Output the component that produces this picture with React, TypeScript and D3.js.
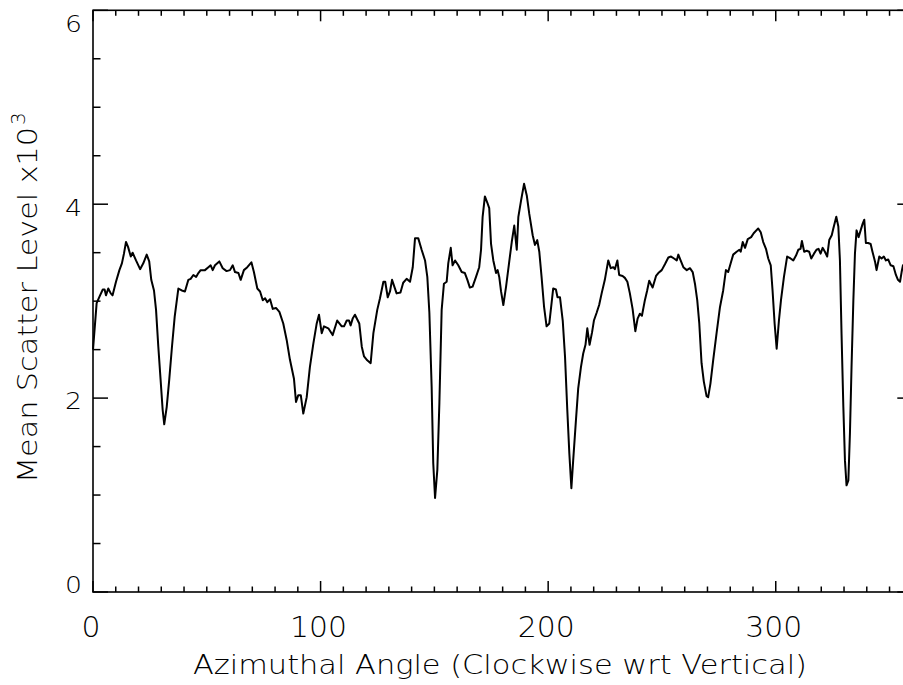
import React from "react";
import * as d3 from "d3";

const angles: number[] = [
  0.0, 1.6, 3.1, 4.3, 5.1, 5.7, 6.7, 7.8, 8.6, 10.1, 11.6, 12.7, 13.6, 14.5, 15.4, 16.6, 17.4, 18.9, 20.7, 22.1,
  23.6, 24.7, 25.6, 26.8, 27.7, 28.7, 29.7, 30.6, 31.3, 32.4, 33.5, 34.7, 35.9, 37.5, 39.0, 40.4, 41.9, 42.9, 44.1, 45.3,
  46.3, 47.3, 49.2, 50.7, 51.7, 52.6, 53.6, 55.5, 57.0, 58.7, 60.2, 61.4, 62.4, 63.9, 64.9, 66.3, 67.8, 69.6, 70.7, 72.2,
  73.4, 74.6, 75.6, 76.6, 77.8, 79.0, 80.4, 81.9, 83.6, 85.1, 86.5, 88.3, 89.2, 90.2, 91.3, 92.4, 93.9, 95.3, 96.8, 98.3,
  99.3, 100.5, 101.5, 103.4, 105.3, 107.3, 109.3, 110.3, 111.5, 112.5, 113.2, 114.1, 115.1, 117.0, 118.1, 119.1, 120.5, 122.0, 123.2, 124.9,
  126.1, 127.6, 128.4, 129.5, 130.5, 131.4, 133.4, 135.1, 136.3, 137.8, 139.3, 140.5, 141.5, 142.9, 144.4, 145.9, 146.9, 147.8, 148.8, 149.5,
  150.3, 151.3, 152.2, 153.2, 154.2, 155.4, 156.1, 157.2, 158.0, 159.1, 160.5, 162.0, 163.4, 164.5, 165.6, 166.8, 168.3, 169.7, 170.5, 171.2,
  172.2, 173.2, 174.1, 174.9, 175.9, 177.1, 177.8, 178.5, 179.3, 180.3, 181.5, 182.8, 184.0, 185.1, 186.2, 186.9, 188.1, 189.4, 190.6, 191.7,
  193.2, 194.2, 195.2, 196.1, 197.1, 198.2, 199.3, 200.5, 201.5, 202.2, 203.4, 204.1, 205.2, 206.4, 207.4, 208.4, 209.3, 210.2, 211.0, 212.2,
  213.2, 214.4, 215.4, 216.4, 217.2, 218.2, 219.3, 220.1, 221.3, 222.4, 223.5, 224.9, 226.4, 227.5, 228.6, 229.3, 230.4, 231.2, 232.7, 233.7,
  234.8, 235.9, 237.1, 238.3, 239.3, 240.3, 241.2, 242.5, 243.5, 244.4, 245.9, 247.4, 248.4, 249.9, 251.3, 252.8, 254.0, 255.3, 256.5, 257.2,
  258.2, 259.4, 260.9, 262.3, 263.5, 264.5, 265.5, 266.4, 267.4, 268.4, 269.6, 270.3, 271.3, 272.5, 274.0, 275.5, 276.9, 278.1, 279.1, 280.2,
  281.3, 282.8, 284.0, 284.6, 285.5, 286.5, 287.7, 289.2, 290.3, 292.3, 293.4, 294.5, 295.7, 296.7, 297.8, 298.6, 299.5, 300.4, 301.4, 302.3,
  303.6, 305.0, 306.5, 307.7, 308.9, 309.9, 310.9, 311.5, 312.5, 313.6, 314.7, 315.6, 316.8, 317.9, 318.8, 319.7, 320.6, 321.6, 322.6, 323.5,
  324.6, 325.3, 326.6, 327.5, 328.2, 328.9, 329.7, 330.4, 331.1, 331.9, 332.6, 333.3, 334.1, 334.8, 335.5, 336.4, 337.3, 338.2, 338.9, 339.6,
  340.6, 341.7, 342.5, 343.6, 344.3, 345.5, 346.5, 347.5, 348.4, 349.4, 350.5, 351.7, 352.8, 353.7, 354.6, 355.3, 355.9, 357.0, 358.5, 360.0,
];

const scatter: number[] = [
  2.5, 2.98, 3.06, 3.12, 3.12, 3.06, 3.13, 3.08, 3.06, 3.2, 3.32, 3.39, 3.49, 3.61, 3.56, 3.46, 3.5, 3.42, 3.33, 3.39,
  3.48, 3.41, 3.22, 3.11, 2.91, 2.53, 2.19, 1.88, 1.73, 1.91, 2.19, 2.53, 2.84, 3.13, 3.11, 3.1, 3.22, 3.23, 3.27, 3.25,
  3.29, 3.32, 3.32, 3.35, 3.37, 3.32, 3.37, 3.41, 3.34, 3.31, 3.32, 3.37, 3.3, 3.29, 3.22, 3.32, 3.35, 3.4, 3.3, 3.13,
  3.1, 3.01, 3.03, 2.99, 3.02, 2.92, 2.93, 2.89, 2.77, 2.6, 2.4, 2.2, 1.96, 2.03, 2.03, 1.84, 2.01, 2.32, 2.56, 2.77,
  2.86, 2.67, 2.74, 2.72, 2.65, 2.8, 2.74, 2.74, 2.8, 2.8, 2.75, 2.82, 2.86, 2.77, 2.53, 2.43, 2.39, 2.36, 2.67, 2.91,
  3.03, 3.2, 3.2, 3.04, 3.1, 3.22, 3.08, 3.09, 3.19, 3.23, 3.2, 3.35, 3.65, 3.65, 3.53, 3.42, 3.25, 2.88, 2.12, 1.33,
  0.97, 1.26, 1.95, 2.91, 3.18, 3.2, 3.39, 3.55, 3.37, 3.42, 3.37, 3.3, 3.29, 3.22, 3.14, 3.15, 3.25, 3.35, 3.53, 3.87,
  4.08, 4.02, 3.96, 3.59, 3.42, 3.29, 3.32, 3.25, 3.1, 2.96, 3.15, 3.39, 3.61, 3.78, 3.53, 3.87, 4.04, 4.21, 4.09, 3.9,
  3.68, 3.58, 3.63, 3.51, 3.25, 2.94, 2.74, 2.77, 2.98, 3.13, 3.12, 3.04, 3.04, 2.8, 2.43, 1.88, 1.43, 1.07, 1.36, 1.77,
  2.1, 2.32, 2.46, 2.55, 2.72, 2.55, 2.68, 2.8, 2.88, 2.96, 3.08, 3.22, 3.42, 3.34, 3.35, 3.33, 3.42, 3.27, 3.26, 3.24,
  3.2, 3.08, 2.92, 2.69, 2.82, 2.87, 2.85, 3.01, 3.11, 3.21, 3.14, 3.26, 3.29, 3.32, 3.38, 3.45, 3.46, 3.44, 3.42, 3.48,
  3.42, 3.35, 3.32, 3.34, 3.3, 3.18, 3.01, 2.77, 2.36, 2.17, 2.02, 2.01, 2.15, 2.39, 2.67, 2.94, 3.11, 3.32, 3.3, 3.39,
  3.48, 3.51, 3.53, 3.51, 3.61, 3.55, 3.64, 3.66, 3.7, 3.75, 3.71, 3.61, 3.54, 3.44, 3.37, 3.11, 2.77, 2.51, 2.8, 3.01,
  3.25, 3.46, 3.44, 3.42, 3.47, 3.53, 3.54, 3.62, 3.51, 3.52, 3.51, 3.44, 3.49, 3.53, 3.54, 3.49, 3.55, 3.51, 3.46, 3.63,
  3.68, 3.75, 3.87, 3.77, 3.42, 2.67, 1.91, 1.36, 1.1, 1.15, 1.64, 2.32, 3.01, 3.49, 3.73, 3.66, 3.73, 3.8, 3.84, 3.6,
  3.6, 3.59, 3.51, 3.41, 3.32, 3.46, 3.44, 3.46, 3.42, 3.43, 3.37, 3.36, 3.27, 3.22, 3.2, 3.3, 3.37, 3.4, 3.42, 3.4,
];

const xMajorTicks: number[] = [0, 100, 200, 300];
const yMajorTicks: number[] = [0, 2, 4, 6];
const xTitle = "Azimuthal Angle (Clockwise wrt Vertical)";
const yTitle = "Mean Scatter Level x10";
const yTitleSup = "3";

const W = 903;
const H = 685;
const left = 93;
const right = 912.3;
const top = 10.3;
const bottom = 592;
const FONT = "'DejaVu Sans', sans-serif";
const WEIGHT = 200;

export default function App() {
  const x = d3.scaleLinear().domain([0, 360]).range([left, right]);
  const y = d3.scaleLinear().domain([0, 6]).range([bottom, top]);
  const pts = angles.map((a, i) => [a, scatter[i]] as [number, number]);
  const line = d3
    .line<[number, number]>()
    .x((d) => x(d[0]))
    .y((d) => y(d[1]));

  const xMinor = d3.range(0, 361, 10);
  const yMinor = d3.range(0, 6.01, 0.5);

  const xTickMaj = 11;
  const xTickMin = 5.5;
  const yTickMaj = 15;
  const yTickMin = 7.5;

  return (
    <svg
      width={W}
      height={H}
      style={{ position: "absolute", left: 0, top: 0, background: "#fff", overflow: "hidden" }}
    >
      <rect x={0} y={0} width={W} height={H} fill="#fff" />
      {xMinor.map((v) => {
        const major = v % 100 === 0 && v <= 300;
        const len = major ? xTickMaj : xTickMin;
        return (
          <g key={"xt" + v} stroke="#000" strokeWidth={1.5}>
            <line x1={x(v)} x2={x(v)} y1={bottom} y2={bottom - len} />
            <line x1={x(v)} x2={x(v)} y1={top} y2={top + len} />
          </g>
        );
      })}
      {yMinor.map((v) => {
        const major = Math.abs(v % 2) < 1e-6;
        const len = major ? yTickMaj : yTickMin;
        return (
          <g key={"yt" + v} stroke="#000" strokeWidth={1.5}>
            <line x1={left} x2={left + len} y1={y(v)} y2={y(v)} />
            <line x1={right} x2={right - len} y1={y(v)} y2={y(v)} />
          </g>
        );
      })}
      <rect x={left} y={top} width={right - left} height={bottom - top} fill="none" stroke="#000" strokeWidth={1.6} />
      <path d={line(pts) || ""} fill="none" stroke="#000" strokeWidth={2} strokeLinejoin="round" />
      {xMajorTicks.map((v) => {
        const s = String(v);
        return (
          <text
            key={"xl" + v}
            x={x(v) - 2}
            y={637}
            textAnchor="middle"
            fontFamily={FONT}
            fontWeight={WEIGHT}
            fontSize={29}
            textLength={19 * s.length}
            lengthAdjust="spacingAndGlyphs"
            fill="#000"
          >
            {s}
          </text>
        );
      })}
      {yMajorTicks.map((v) => {
        const s = String(v);
        const cy = Math.min(Math.max(y(v) + 3, top + 13), bottom - 7.5);
        return (
          <text
            key={"yl" + v}
            x={82}
            y={cy + 8.3}
            textAnchor="end"
            fontFamily={FONT}
            fontWeight={WEIGHT}
            fontSize={23}
            textLength={17 * s.length}
            lengthAdjust="spacingAndGlyphs"
            fill="#000"
          >
            {s}
          </text>
        );
      })}
      <text
        x={193}
        y={674}
        fontFamily={FONT}
        fontWeight={WEIGHT}
        fontSize={27}
        textLength={614}
        lengthAdjust="spacingAndGlyphs"
        fill="#000"
      >
        {xTitle}
      </text>
      <g transform={`translate(37, 483) rotate(-90)`}>
        <text
          x={0}
          y={0}
          fontFamily={FONT}
          fontWeight={WEIGHT}
          fontSize={27}
          textLength={356}
          lengthAdjust="spacingAndGlyphs"
          fill="#000"
        >
          {yTitle}
        </text>
        <text x={358} y={-12} fontFamily={FONT} fontWeight={WEIGHT} fontSize={20} fill="#000">
          {yTitleSup}
        </text>
      </g>
    </svg>
  );
}
